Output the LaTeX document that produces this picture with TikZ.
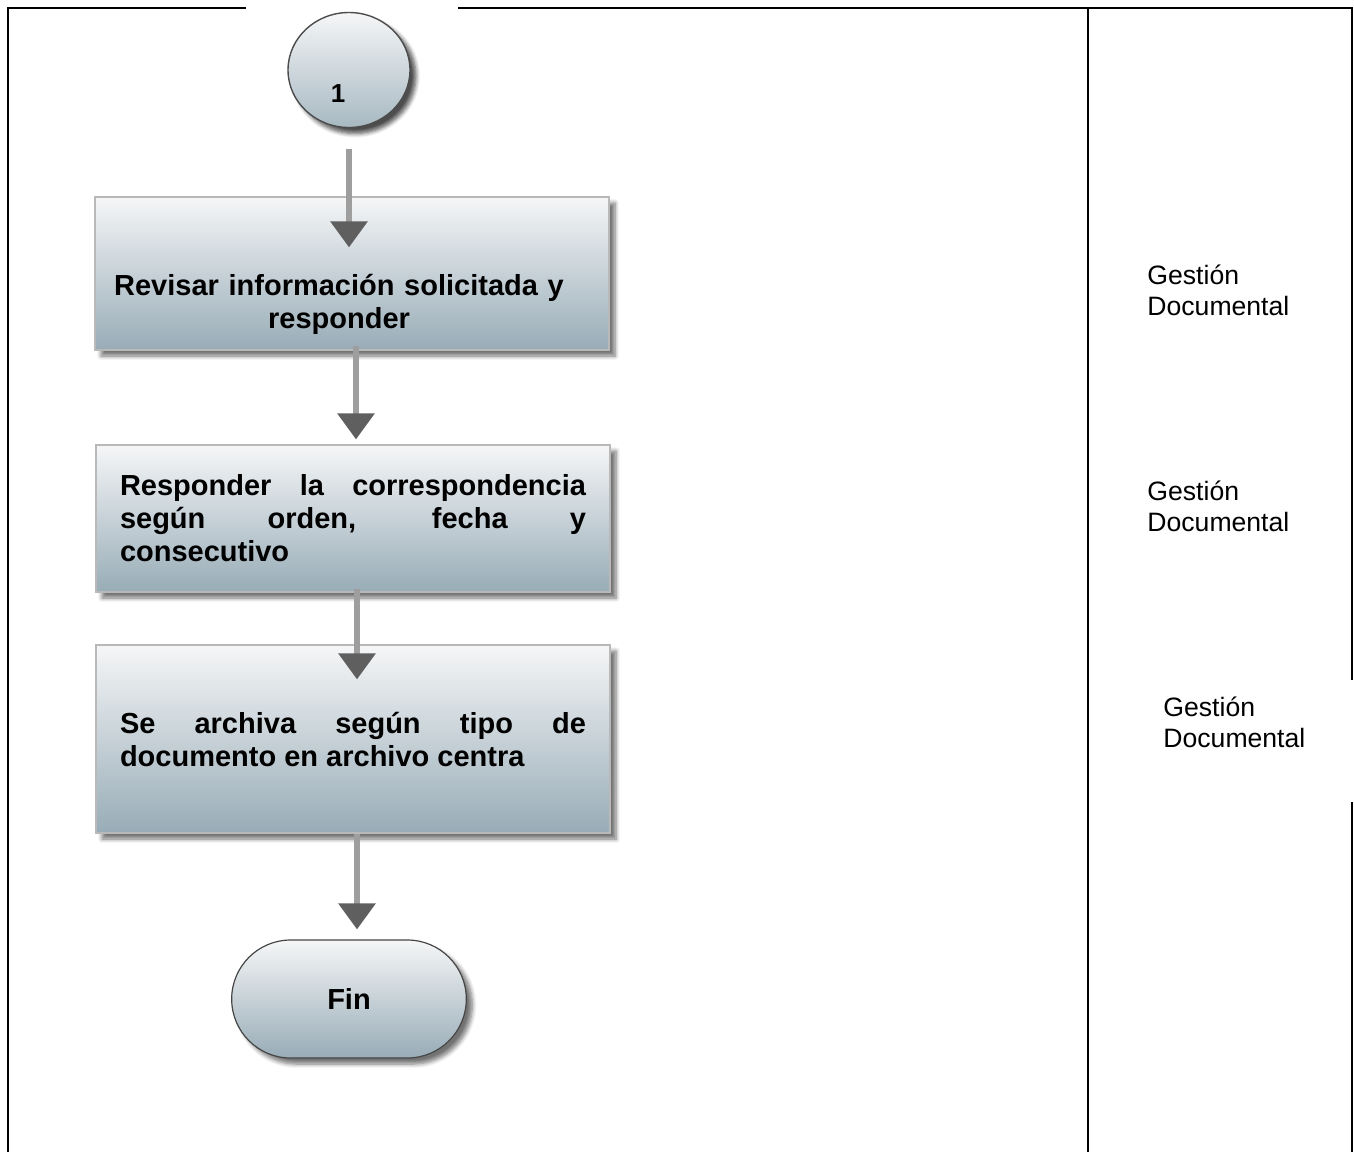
\documentclass[tikz,border=0pt]{standalone}
\usepackage{fontspec}
\setmainfont{Liberation Sans}
\usepackage{tikz}
\usetikzlibrary{positioning,shapes.geometric,shapes.misc,shadows.blur,arrows.meta}

\definecolor{boxtop}{RGB}{245,246,247}
\definecolor{boxbot}{RGB}{152,172,183}
\definecolor{flowline}{RGB}{158,158,158}
\definecolor{flowtip}{RGB}{95,95,95}

\begin{document}
\begin{tikzpicture}[x=0.5pt,y=-0.5pt,
    stepbox/.style={rectangle,draw=gray!55,line width=0.6pt,top color=boxtop,bottom color=boxbot,
      blur shadow={shadow xshift=3pt,shadow yshift=-3pt,shadow blur steps=6,shadow opacity=55},
      minimum width=257pt,inner sep=0pt,text width=233pt,align=justify,
      font=\fontsize{14.5}{16.5}\selectfont\bfseries},
    flow/.style={draw=flowline,line width=3pt,-{Triangle[width=18pt,length=13pt,color=flowtip,fill=flowtip]}},
    frame/.style={line width=1.4pt},
    who/.style={anchor=west,inner sep=0pt,align=left,font=\fontsize{13.3}{15.5}\selectfont}]
    \useasboundingbox (0,0) rectangle (1354,1152);

    % frame of the sheet
    \draw[frame] (246,8) -- (8,8) -- (8,1152);
    \draw[frame] (458,8) -- (1352,8) -- (1352,680);
    \draw[frame] (1352,802) -- (1352,1152);
    \draw[frame] (1088,8) -- (1088,1152);

    % connector and steps
    \node [ellipse,draw=gray!60!black,line width=0.7pt,minimum width=61pt,minimum height=57.5pt,
      top color=boxtop,bottom color=boxbot!85,
      blur shadow={shadow xshift=3pt,shadow yshift=-3pt,shadow blur steps=6,shadow opacity=70}] (c1) at (349,70) {};
    \node [font=\fontsize{13}{15}\selectfont\bfseries] (n1) at (338,94) {1};

    \node [stepbox,minimum height=76.5pt] (s1) at (352,273.5) {};
    \node [align=center,text width=240pt,font=\fontsize{14.5}{16.5}\selectfont\bfseries] (t1) at (339,304.5)
      {Revisar información solicitada y\\responder};
    \node [stepbox,minimum height=73.5pt] (s2) at (353,518.5)
      {Responder la correspondencia\linebreak según orden, fecha y\linebreak consecutivo};
    \node [stepbox,minimum height=94pt] (s3) at (353,739)
      {Se archiva según tipo de\linebreak documento en archivo centra};
    \node [rounded rectangle,draw=gray!55!black,line width=0.6pt,minimum width=124pt,minimum height=59pt,
      top color=boxtop,bottom color=boxbot,font=\fontsize{14.5}{16.5}\selectfont\bfseries,
      blur shadow={shadow xshift=3pt,shadow yshift=-3pt,shadow blur steps=6,shadow opacity=55}] (fin) at (349,999) {Fin};

    \draw[flow,shorten <=10.5pt,shorten >=-25.5pt] (c1.south) -- (c1.south |- s1.north);
    \draw[flow,shorten <=-2.5pt,shorten >=2.5pt] ([xshift=2pt]s1.south) -- ([xshift=2pt]s1.south |- s2.north);
    \draw[flow,shorten <=-2pt,shorten >=-17.5pt] ([xshift=2pt]s2.south) -- ([xshift=2pt]s2.south |- s3.north);
    \draw[flow,shorten >=5pt] ([xshift=2pt]s3.south) -- ([xshift=2pt]s3.south |- fin.north);

    % responsible
    \node [who] (g1) at (1147,290.5) {Gestión\\Documental};
    \node [who] (g2) at (1147,506.5) {Gestión\\Documental};
    \node [who] (g3) at (1163,722.5) {Gestión\\Documental};
\end{tikzpicture}
\end{document}
